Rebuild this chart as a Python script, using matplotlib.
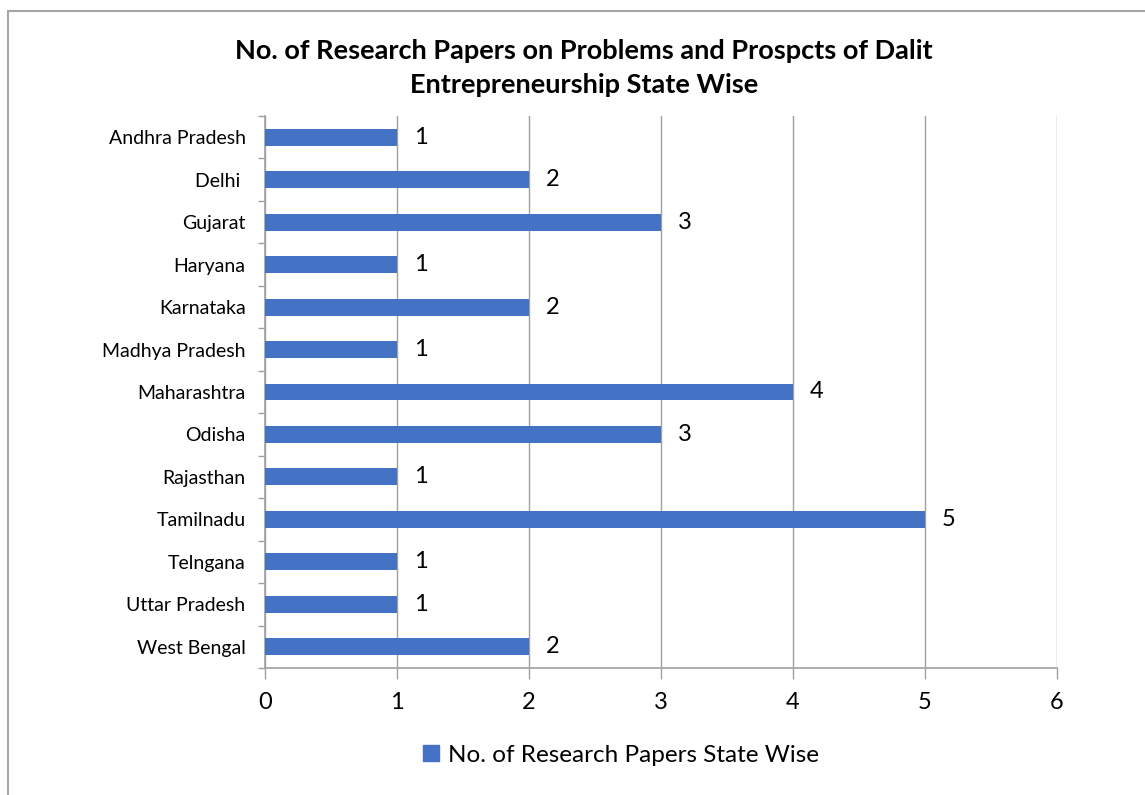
import matplotlib
matplotlib.use('Agg')
import matplotlib.pyplot as plt
from matplotlib.patches import Rectangle, Patch

plt.rcParams['font.family'] = ['Lato', 'DejaVu Sans']

states = ['Andhra Pradesh', 'Delhi ', 'Gujarat', 'Haryana', 'Karnataka', 'Madhya Pradesh',
          'Maharashtra', 'Odisha', 'Rajasthan', 'Tamilnadu', 'Telngana', 'Uttar Pradesh',
          'West Bengal']
papers = [1, 2, 3, 1, 2, 1, 4, 3, 1, 5, 1, 1, 2]
x_ticks = [0, 1, 2, 3, 4, 5, 6]

W, H = 1145, 795
fig = plt.figure(figsize=(W / 100, H / 100), dpi=100)

# outer chart border (right and bottom cut off in the original)
fig.patches.append(Rectangle((8 / W, -0.1), 1.2, 1 - 11 / H + 0.1, transform=fig.transFigure,
                             fill=False, edgecolor='#a6a6a6', linewidth=1.5))

ax = fig.add_axes([265 / W, 1 - 668 / H, (1057 - 265) / W, (668 - 116) / H])

pos = list(range(len(states)))
bars = ax.barh(pos, papers, height=0.4, color='#4472C4', zorder=3)
for p, v in zip(pos, papers):
    ax.text(v + 0.13, p, str(v), va='center', ha='left', fontsize=17, color='black')

ax.set_ylim(len(states) - 0.5, -0.5)
ax.set_xlim(0, 6)
ax.set_xticks(x_ticks)
ax.set_xticklabels([str(t) for t in x_ticks], fontsize=17)
ax.set_yticks(pos)
ax.set_yticklabels(states, fontsize=14)
ax.tick_params(axis='y', length=0, pad=14)
ax.tick_params(axis='x', length=8, width=1, color='#a0a0a0', pad=9)
# category boundary ticks on the y axis
ax.set_yticks([p - 0.5 for p in pos] + [len(states) - 0.5], minor=True)
ax.tick_params(axis='y', which='minor', length=5, width=1, color='#a0a0a0')

ax.grid(axis='x', color='#a0a0a0', linewidth=1, zorder=0)
for s in ['top', 'right']:
    ax.spines[s].set_visible(False)
for s in ['left', 'bottom']:
    ax.spines[s].set_color('#a0a0a0')
    ax.spines[s].set_linewidth(1.2)

fig.text(584 / W, 1 - 68 / H, 'No. of Research Papers on Problems and Prospcts of Dalit\nEntrepreneurship State Wise',
         ha='center', va='center', fontsize=19.5, fontweight='bold', linespacing=1.5)

fig.legend(handles=[Patch(color='#4472C4', label='No. of Research Papers State Wise')],
           loc='center', bbox_to_anchor=(621 / W, 1 - 755 / H), frameon=False, fontsize=17.5,
           handlelength=0.65, handleheight=0.65, handletextpad=0.4)

fig.savefig('out.png', dpi=100)
